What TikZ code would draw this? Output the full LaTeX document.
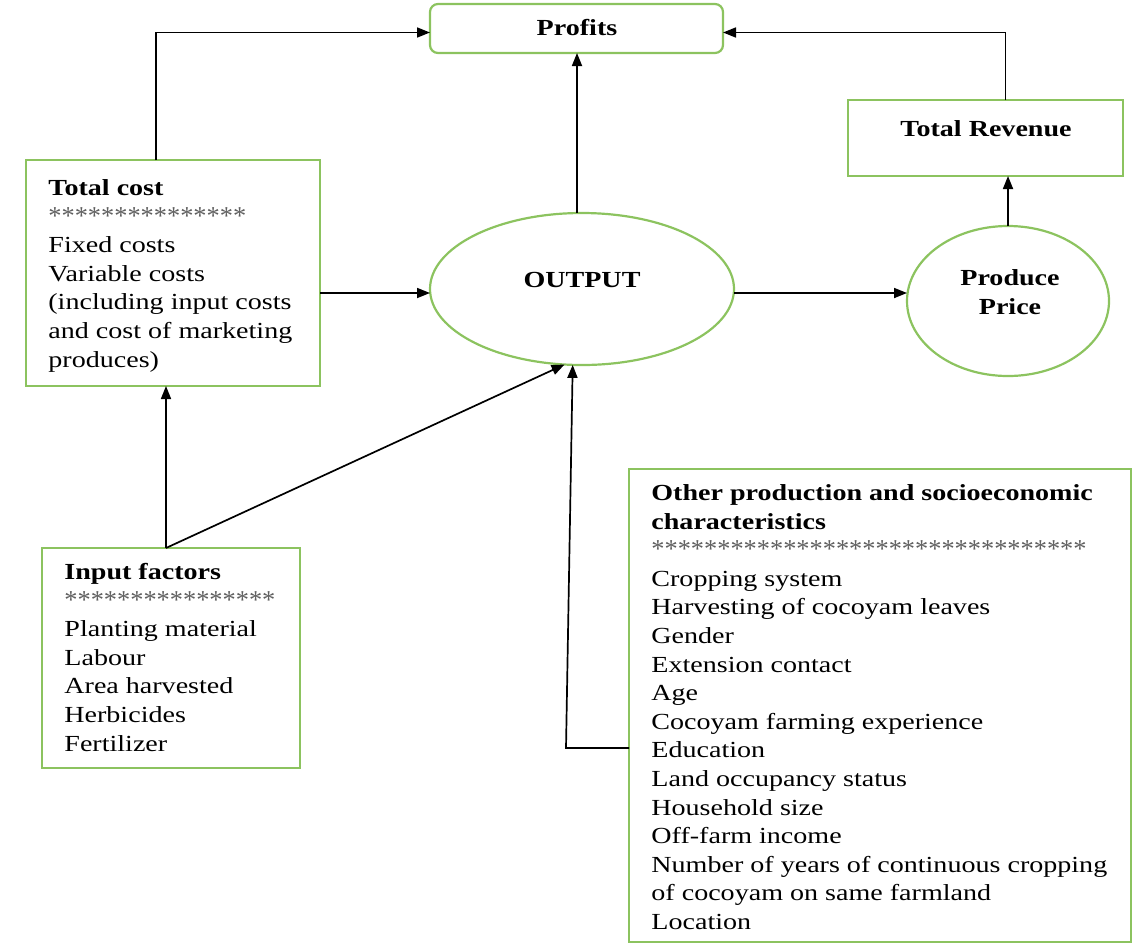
\documentclass[tikz,border=0pt]{standalone}
\usepackage{fontspec}
\setmainfont{Liberation Serif}[FakeStretch=1.22]
\usetikzlibrary{arrows.meta,shapes.geometric}
\definecolor{boxgreen}{RGB}{140,195,95}
\definecolor{stargray}{RGB}{95,95,95}
\newcommand{\starrow}[1]{\textcolor{stargray}{\scalebox{0.94}[1.12]{#1}}}
\begin{document}
\begin{tikzpicture}[x=0.5pt,y=-0.5pt,
  box/.style={draw=boxgreen,line width=1.1pt,rectangle,inner sep=0pt,outer sep=0pt},
  oval/.style={draw=boxgreen,line width=1.1pt,ellipse,inner sep=0pt,outer sep=0pt},
  txt/.style={align=left,inner sep=0pt,anchor=north west,font=\fontsize{11.5}{14.3}\selectfont},
  ttl/.style={font=\fontsize{11.5}{14.3}\selectfont\bfseries,inner sep=0pt,align=center},
  arr/.style={draw=black,line width=0.85pt,-{Triangle[length=6.5pt,width=5pt]}}]
\useasboundingbox (0,0) rectangle (1133,943);

% boxes
\node[box,rounded corners=4pt,minimum width=146.5pt,minimum height=24.5pt] (prof) at (576.5,28.5) {};
\node[box,minimum width=147pt,minimum height=113pt] (tc) at (173,273) {};
\node[box,minimum width=129pt,minimum height=110pt] (inp) at (171,658) {};
\node[box,minimum width=251pt,minimum height=236.5pt] (oth) at (880,705.5) {};
\node[box,minimum width=137.5pt,minimum height=38pt] (rev) at (985.5,138) {};
\node[oval,minimum width=152pt,minimum height=76pt] (out) at (582,289) {};
\node[oval,minimum width=101pt,minimum height=75pt] (price) at (1008,301) {};

% titles
\node[ttl] (proft) at (577,28) {Profits};
\node[ttl] (outt) at (582,280) {OUTPUT};
\node[ttl] (pricet) at (1010,292) {Produce\\Price};
\node[ttl] (revt) at (986,129) {Total Revenue};

% box texts
\node[txt] (tct) at (48,177) {\rule{0pt}{9pt}\textbf{Total cost}\\
\starrow{***************}\\
Fixed costs\\
Variable costs\\
(including input costs\\
and cost of marketing\\
produces)};

\node[txt] (inpt) at (64,561) {\rule{0pt}{9pt}\textbf{Input factors}\\
\starrow{****************}\\
Planting material\\
Labour\\
Area harvested\\
Herbicides\\
Fertilizer};

\node[txt] (otht) at (651,482) {\rule{0pt}{9pt}\textbf{Other production and socioeconomic}\\
\textbf{characteristics}\\
\starrow{*********************************}\\
Cropping system\\
Harvesting of cocoyam leaves\\
Gender\\
Extension contact\\
Age\\
Cocoyam farming experience\\
Education\\
Land occupancy status\\
Household size\\
Off-farm income\\
Number of years of continuous cropping\\
of cocoyam on same farmland\\
Location};

% connectors
\draw[arr] ([xshift=-8.5pt]tc.north) |- ([yshift=-2pt]prof.west);
\draw[arr] ([xshift=-2.5pt]out.north) -- ([xshift=-2.5pt]out.north |- prof.south);
\draw[arr] ([xshift=10pt]rev.north) |- ([yshift=-2pt]prof.east);
\draw[arr] (price.north) -- (price.north |- rev.south);
\draw[arr] ([yshift=-10pt]tc.east) -- ([yshift=-10pt]tc.east -| out.west);
\draw[arr] ([yshift=-2pt]out.east) -- ([yshift=-2pt]out.east -| price.west);
\draw[arr] ([xshift=-2.5pt]inp.north) -- ([xshift=-2.5pt]inp.north |- tc.south);
\draw[arr] ([xshift=-2.5pt]inp.north) -- (out.257);
\draw[arr] ([yshift=-21.25pt]oth.west) -- ++(-63,0) -- (out.263);
\end{tikzpicture}
\end{document}
